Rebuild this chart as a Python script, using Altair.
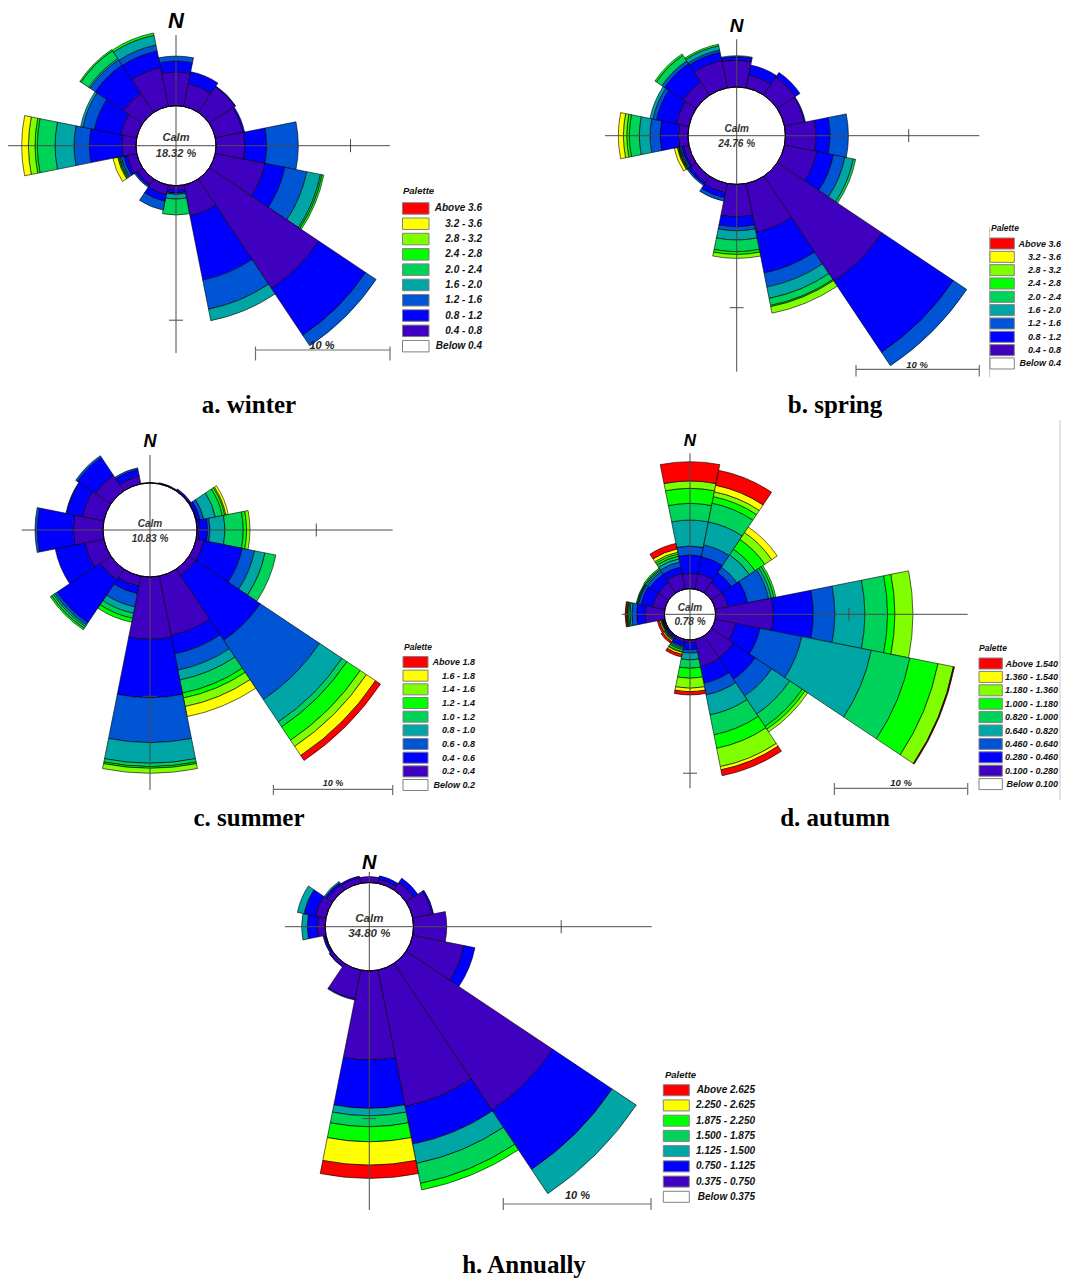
import math

import altair as alt
import pandas as pd

# ---------------------------------------------------------------------------
# Wind-rose data: frequency (%) per direction and wind-speed class (m/s)
# ---------------------------------------------------------------------------
DIRECTIONS = ["N", "NNE", "NE", "ENE", "E", "ESE", "SE", "SSE",
              "S", "SSW", "SW", "WSW", "W", "WNW", "NW", "NNW"]

WINTER_CLASSES = ["0.4 - 0.8", "0.8 - 1.2", "1.2 - 1.6", "1.6 - 2.0", "2.0 - 2.4",
                  "2.4 - 2.8", "2.8 - 3.2", "3.2 - 3.6", "Above 3.6"]
SPRING_CLASSES = ["0.4 - 0.8", "0.8 - 1.2", "1.2 - 1.6", "1.6 - 2.0", "2.0 - 2.4",
                  "2.4 - 2.8", "2.8 - 3.2", "3.2 - 3.6", "Above 3.6"]
SUMMER_CLASSES = ["0.2 - 0.4", "0.4 - 0.6", "0.6 - 0.8", "0.8 - 1.0", "1.0 - 1.2",
                  "1.2 - 1.4", "1.4 - 1.6", "1.6 - 1.8", "Above 1.8"]
AUTUMN_CLASSES = ["0.100 - 0.280", "0.280 - 0.460", "0.460 - 0.640", "0.640 - 0.820",
                  "0.820 - 1.000", "1.000 - 1.180", "1.180 - 1.360", "1.360 - 1.540",
                  "Above 1.540"]
ANNUAL_CLASSES = ["0.375 - 0.750", "0.750 - 1.125", "1.125 - 1.500", "1.500 - 1.875",
                  "1.875 - 2.250", "2.250 - 2.625", "Above 2.625"]

BELOW = {"winter": "Below 0.4", "spring": "Below 0.4", "summer": "Below 0.2",
         "autumn": "Below 0.100", "annual": "Below 0.375"}

CALM = {"winter": 18.32, "spring": 24.76, "summer": 10.83, "autumn": 0.78, "annual": 34.80}

# rows follow DIRECTIONS, columns follow the speed classes (lowest first)
WINTER = [
    [2.53, 0.79, 0.37, 0, 0, 0, 0, 0, 0],
    [1.73, 0.90, 0, 0, 0, 0, 0, 0, 0],
    [2.30, 0.06, 0, 0, 0, 0, 0, 0, 0],
    [2.10, 0.12, 0, 0, 0, 0, 0, 0, 0],
    [2.16, 1.61, 2.35, 0, 0, 0, 0, 0, 0],
    [3.77, 1.51, 1.66, 1.04, 0.12, 0.13, 0, 0, 0],
    [9.79, 4.19, 0.94, 0, 0, 0, 0, 0, 0],
    [2.35, 4.86, 2.21, 0.87, 0, 0, 0, 0, 0],
    [0.35, 0.20, 0.10, 0.35, 1.18, 0, 0, 0, 0],
    [0.74, 0.50, 0.67, 0, 0, 0, 0, 0, 0],
    [0.50, 0.15, 0.10, 0, 0, 0, 0, 0, 0],
    [0.74, 0.25, 0.20, 0.10, 0.08, 0.08, 0, 0.36, 0],
    [1.07, 2.40, 1.14, 1.41, 1.32, 0.17, 0.49, 0.50, 0],
    [1.24, 1.98, 0.87, 0.17, 0, 0, 0, 0, 0],
    [1.73, 2.51, 0.47, 0.12, 0.70, 0.10, 0, 0, 0],
    [2.95, 1.26, 0.45, 0.74, 0, 0.17, 0, 0, 0],
]

SPRING = [
    [2.20, 0.25, 0.09, 0, 0, 0, 0, 0, 0],
    [1.08, 0.81, 0, 0, 0, 0, 0, 0, 0],
    [1.78, 0.44, 0, 0, 0, 0, 0, 0, 0],
    [1.65, 0.08, 0, 0, 0, 0, 0, 0, 0],
    [2.49, 1.13, 1.49, 0, 0, 0, 0, 0, 0],
    [2.68, 1.37, 0.95, 0.70, 0.19, 0, 0, 0, 0],
    [10.24, 6.95, 1.30, 0, 0, 0, 0, 0, 0],
    [4.03, 3.38, 1.16, 0.94, 0.58, 0.10, 0.54, 0, 0],
    [2.62, 0.81, 0.33, 0.75, 0.95, 0.22, 0.32, 0, 0],
    [0.78, 0.41, 0.27, 0, 0, 0, 0, 0, 0],
    [0.60, 0.20, 0.12, 0, 0, 0, 0, 0, 0],
    [0.45, 0.15, 0.12, 0.08, 0.06, 0.06, 0.05, 0.25, 0],
    [0.78, 1.49, 0.81, 0.87, 0.81, 0.21, 0.27, 0.41, 0],
    [1.05, 1.63, 0.30, 0.24, 0, 0, 0, 0, 0],
    [1.30, 1.78, 0.27, 0, 0.54, 0.14, 0, 0, 0],
    [2.27, 0.68, 0.19, 0.35, 0, 0.13, 0, 0, 0],
]

SUMMER = [
    [0.05, 0, 0, 0, 0, 0, 0, 0, 0],
    [0.05, 0.05, 0, 0, 0, 0, 0, 0, 0],
    [0.10, 0.10, 0, 0, 0, 0, 0, 0, 0],
    [0.10, 0.25, 0.30, 1.00, 0.60, 0.20, 0.10, 0.20, 0],
    [0.20, 0.70, 0.19, 1.26, 1.53, 0.28, 0.28, 0, 0],
    [0.67, 3.27, 1.06, 0.89, 0.93, 0, 0, 0, 0],
    [0.67, 6.51, 5.98, 2.26, 0.50, 1.34, 0.62, 0.92, 0.50],
    [5.06, 1.59, 1.39, 0.84, 1.12, 0.42, 0.73, 0.86, 0],
    [5.22, 4.89, 3.77, 1.73, 0.28, 0.14, 0.42, 0, 0],
    [0.87, 0.64, 1.12, 0.55, 0.42, 0.34, 0, 0, 0],
    [1.09, 4.33, 0.22, 0.16, 0.18, 0.14, 0, 0, 0],
    [1.65, 2.51, 0, 0, 0, 0, 0, 0, 0],
    [2.49, 3.01, 0.20, 0, 0, 0, 0, 0, 0],
    [1.84, 1.35, 0.05, 0, 0, 0, 0, 0, 0],
    [1.59, 1.79, 0.17, 0, 0, 0, 0, 0, 0],
    [0.67, 0.56, 0.14, 0, 0, 0, 0, 0, 0],
]

AUTUMN = [
    [1.15, 1.38, 0.67, 1.95, 1.25, 1.13, 0.55, 0, 1.45],
    [1.20, 1.28, 0.90, 1.77, 1.43, 0.50, 0.37, 0.50, 1.15],
    [0.95, 0.88, 0.50, 1.12, 0.50, 0.88, 0.62, 0.50, 0],
    [1.00, 1.50, 1.60, 0.20, 0.20, 0.15, 0, 0, 0],
    [4.33, 3.00, 1.62, 2.25, 1.70, 0.55, 1.35, 0, 0],
    [1.58, 1.85, 3.20, 5.32, 2.95, 2.15, 1.18, 0.03, 0.05],
    [2.00, 1.95, 1.50, 1.63, 1.12, 0.25, 0.25, 0, 0],
    [2.08, 1.27, 0.90, 1.53, 1.52, 1.03, 1.40, 0.25, 0.45],
    [0.25, 0.50, 0.25, 0.50, 0.63, 0.75, 0.75, 0.25, 0.25],
    [0.20, 0.30, 0.10, 0.10, 0.10, 0.15, 0.05, 0.15, 0.20],
    [0.10, 0.10, 0.05, 0.05, 0.05, 0.05, 0.05, 0.10, 0.15],
    [0.08, 0.07, 0.03, 0.03, 0.03, 0.04, 0.05, 0.10, 0.15],
    [1.45, 0.63, 0.37, 0.15, 0.10, 0.08, 0.05, 0.05, 0.07],
    [0.95, 0.88, 0.20, 0.07, 0.05, 0.05, 0, 0, 0],
    [0.95, 0.75, 0.25, 0.12, 0.08, 0.10, 0, 0, 0],
    [1.20, 0.50, 0.38, 0.25, 0.20, 0.17, 0.13, 0.25, 0.42],
]

ANNUAL = [
    [0.40, 0, 0, 0, 0, 0, 0],
    [0.30, 0.22, 0, 0, 0, 0, 0],
    [0.62, 0.34, 0, 0, 0, 0, 0],
    [1.35, 0.10, 0, 0, 0, 0, 0],
    [2.25, 0, 0, 0, 0, 0, 0],
    [3.56, 0.74, 0, 0, 0, 0, 0],
    [11.95, 4.83, 1.97, 0, 0, 0, 0],
    [9.42, 2.60, 1.33, 1.38, 0.45, 0, 0],
    [6.04, 3.27, 0.50, 0.74, 1.02, 1.58, 0.90],
    [2.00, 0.07, 0, 0, 0, 0, 0],
    [0.25, 0.03, 0, 0, 0, 0, 0],
    [0.10, 0.10, 0, 0, 0, 0, 0],
    [0.53, 0.68, 0.38, 0, 0, 0, 0],
    [0.73, 0.79, 0.45, 0, 0, 0, 0],
    [0.45, 0.15, 0.09, 0, 0, 0, 0],
    [0.40, 0.10, 0, 0, 0, 0, 0],
]

# ---------------------------------------------------------------------------
# Styling
# ---------------------------------------------------------------------------
INDIGO, BLUE, MBLUE, TEAL = "#4000C0", "#0000FF", "#0055D4", "#00A5A5"
MGREEN, GREEN, LIME, YELLOW, RED = "#00D35A", "#00FF00", "#80FF00", "#FFFF00", "#FF0000"
PALETTE_9 = [INDIGO, BLUE, MBLUE, TEAL, MGREEN, GREEN, LIME, YELLOW, RED]
PALETTE_7 = [INDIGO, BLUE, TEAL, MGREEN, GREEN, YELLOW, RED]

SANS = "Liberation Sans"
SERIF = "Liberation Serif"

# panel layout: rose centre, calm radius, pixels per 10 %, guides and legend
ROSES = [
    dict(key="winter", freq=WINTER, classes=WINTER_CLASSES, palette=PALETTE_9,
         cx=176, cy=145.7, r0=40, px10=134.5, hx=(8, 390), vy=(35, 353),
         north=(21, 22), calm_y=(138.3, 154.2), calm_fs=11,
         bar=(390, 350, 346.5, 360.5), bar_label=(322, 346, 11),
         legend=dict(x=402.5, w=26.5, top=202.7, h=11.5, step=15.3, right=482,
                     tx=403, ty=191, fs=10),
         caption=("a. winter", 249, 405)),
    dict(key="spring", freq=SPRING, classes=SPRING_CLASSES, palette=PALETTE_9,
         cx=736.7, cy=135.7, r0=48.7, px10=123.3, hx=(605, 979.3), vy=(39.3, 371.7),
         north=(26, 19), calm_y=(129, 144), calm_fs=10,
         bar=(979.3, 369.3, 365, 376.5), bar_label=(917, 364.5, 9.5),
         legend=dict(x=990, w=24.3, top=238, h=11, step=13.33, right=1061,
                     tx=991, ty=228, fs=9),
         caption=("b. spring", 835, 405)),
    dict(key="summer", freq=SUMMER, classes=SUMMER_CLASSES, palette=PALETTE_9,
         cx=150, cy=530, r0=47, px10=119.3, hx=(21.7, 392.7), vy=(455, 790),
         north=(441.5, 18), calm_y=(524.3, 538.7), calm_fs=10,
         bar=(392.7, 789.3, 785, 795), bar_label=(333, 782.5, 9),
         legend=dict(x=403, w=25, top=656.5, h=11, step=13.67, right=475,
                     tx=404, ty=647, fs=9),
         caption=("c. summer", 249, 818)),
    dict(key="autumn", freq=AUTUMN, classes=AUTUMN_CLASSES, palette=PALETTE_9,
         cx=690, cy=614.3, r0=25.6, px10=133.3, hx=(621.7, 967.7), vy=(453.3, 788.3),
         north=(441, 17), calm_y=(608.3, 621.7), calm_fs=10,
         bar=(967.7, 788.3, 783, 795), bar_label=(901, 782.5, 9.5),
         legend=dict(x=979, w=23.3, top=658, h=11, step=13.4, right=1058,
                     tx=979, ty=648, fs=9),
         caption=("d. autumn", 835, 818)),
    dict(key="annual", freq=ANNUAL, classes=ANNUAL_CLASSES, palette=PALETTE_7,
         cx=369.3, cy=926.7, r0=44.2, px10=147.7, hx=(285, 651.7), vy=(872, 1210),
         north=(863, 20), calm_y=(919, 934.3), calm_fs=11.5,
         bar=(651, 1204, 1198, 1210), bar_label=(577.5, 1195.5, 11),
         legend=dict(x=663.3, w=26, top=1084.7, h=11, step=15.23, right=755,
                     tx=665, ty=1075, fs=10),
         caption=("h. Annually", 524, 1265)),
]

ONE = pd.DataFrame({"k": [0]})
THETA_SCALE = alt.Scale(domain=[0, 360], range=[0, 2 * math.pi])


def radius_scale(r):
    return alt.Scale(type="linear", domain=[0, 10], range=[r["r0"], r["r0"] + r["px10"]],
                     zero=False, nice=False)


def rose_frame(r):
    rows = []
    for d, values in enumerate(r["freq"]):
        for b, v in enumerate(values):
            rows.append({"dir": DIRECTIONS[d], "angle": d * 22.5,
                         "cls": r["classes"][b], "order": b, "pct": v})
    return pd.DataFrame(rows)


def sectors(r):
    return (
        alt.Chart(rose_frame(r))
        .transform_stack(stack="pct", groupby=["dir"], as_=["r_in", "r_out"],
                         sort=[alt.SortField(field="order", order="ascending")])
        .transform_filter("datum.pct > 0")
        .transform_calculate(t0="datum.angle - 11.25", t1="datum.angle + 11.25")
        .mark_arc(stroke="#000000", strokeWidth=0.6)
        .encode(
            x=alt.value(r["cx"]), y=alt.value(r["cy"]),
            theta=alt.Theta("t0:Q", scale=THETA_SCALE, stack=False),
            theta2="t1:Q",
            radius=alt.Radius("r_out:Q", scale=radius_scale(r), stack=False),
            radius2="r_in:Q",
            color=alt.Color("cls:N", scale=alt.Scale(domain=r["classes"], range=r["palette"]),
                            legend=None),
        )
    )


def calm_disc(r):
    return (
        alt.Chart(ONE)
        .mark_arc(fill="#FFFFFF", stroke="#000000", strokeWidth=0.8)
        .encode(
            x=alt.value(r["cx"]), y=alt.value(r["cy"]),
            theta=alt.Theta(datum=0, type="quantitative", scale=THETA_SCALE),
            theta2=alt.Theta2(datum=360),
            radius=alt.Radius(datum=0, type="quantitative", scale=radius_scale(r)),
        )
    )


# guide lines: crosshair with a 10 % tick on each arm, and the 10 % scale bar
axis_segs, bar_segs = [], []
for r in ROSES:
    cx, cy, reach = r["cx"], r["cy"], r["r0"] + r["px10"]
    axis_segs += [
        dict(x=r["hx"][0], y=cy, x2=r["hx"][1], y2=cy),
        dict(x=cx, y=r["vy"][0], x2=cx, y2=r["vy"][1]),
        dict(x=cx + reach, y=cy - 6.5, x2=cx + reach, y2=cy + 6.5),
        dict(x=cx - 7, y=cy + reach, x2=cx + 7, y2=cy + reach),
    ]
    bx1, by, bt0, bt1 = r["bar"]
    bx0 = bx1 - r["px10"]
    bar_segs += [
        dict(x=bx0, y=by, x2=bx1, y2=by),
        dict(x=bx0, y=bt0, x2=bx0, y2=bt1),
        dict(x=bx1, y=bt0, x2=bx1, y2=bt1),
    ]
frame_segs = [dict(x=1060, y=420, x2=1060, y2=800),
              dict(x=989.5, y=227, x2=989.5, y2=377)]


def rules(segs, color, width):
    return (
        alt.Chart(pd.DataFrame(segs))
        .mark_rule(color=color, strokeWidth=width)
        .encode(
            x=alt.X("x:Q", scale=None, axis=None), y=alt.Y("y:Q", scale=None, axis=None),
            x2="x2:Q", y2="y2:Q",
        )
    )


def texts(rows, align="center", color="#000000", font=SANS, italic=True, weight="bold"):
    return (
        alt.Chart(pd.DataFrame(rows))
        .mark_text(align=align, baseline="middle", font=font, fontWeight=weight,
                   fontStyle="italic" if italic else "normal", color=color)
        .encode(
            x=alt.X("x:Q", scale=None, axis=None), y=alt.Y("y:Q", scale=None, axis=None),
            text="t:N", size=alt.Size("fs:Q", scale=None),
        )
    )


north_rows, calm_rows, bar_rows, caption_rows = [], [], [], []
legend_boxes, legend_labels, legend_titles = [], [], []
for r in ROSES:
    north_rows.append(dict(x=r["cx"], y=r["north"][0], t="N", fs=r["north"][1]))
    calm_rows.append(dict(x=r["cx"], y=r["calm_y"][0], t="Calm", fs=r["calm_fs"]))
    calm_rows.append(dict(x=r["cx"], y=r["calm_y"][1], t=f"{CALM[r['key']]:.2f} %",
                          fs=r["calm_fs"]))
    bar_rows.append(dict(x=r["bar_label"][0], y=r["bar_label"][1], t="10 %",
                         fs=r["bar_label"][2]))
    caption_rows.append(dict(x=r["caption"][1], y=r["caption"][2], t=r["caption"][0], fs=25))

    g = r["legend"]
    labels = list(reversed(r["classes"])) + [BELOW[r["key"]]]
    fills = list(reversed(r["palette"])) + ["#FFFFFF"]
    legend_titles.append(dict(x=g["tx"], y=g["ty"], t="Palette", fs=g["fs"] - 0.5))
    for i, (lab, fill) in enumerate(zip(labels, fills)):
        top = g["top"] + i * g["step"]
        legend_boxes.append(dict(x=g["x"], x2=g["x"] + g["w"], y=top, y2=top + g["h"],
                                 fill=fill))
        legend_labels.append(dict(x=g["right"], y=top + g["h"] / 2, t=lab, fs=g["fs"]))

legend_rects = (
    alt.Chart(pd.DataFrame(legend_boxes))
    .mark_rect(stroke="#808080", strokeWidth=1)
    .encode(
        x=alt.X("x:Q", scale=None, axis=None), x2="x2:Q",
        y=alt.Y("y:Q", scale=None, axis=None), y2="y2:Q",
        color=alt.Color("fill:N", scale=None),
    )
)

layers = [sectors(r) for r in ROSES]
layers += [rules(axis_segs, "#4a4a4a", 1), rules(bar_segs, "#6e6e6e", 1.2),
           rules(frame_segs, "#c8c8c8", 1)]
layers += [calm_disc(r) for r in ROSES]
layers += [
    texts(north_rows),
    texts(calm_rows, color="#333333"),
    texts(bar_rows, color="#222222"),
    texts(caption_rows, font=SERIF, italic=False),
    legend_rects,
    texts(legend_labels, align="right", color="#111111"),
    texts(legend_titles, align="left", color="#111111"),
]

chart = (
    alt.layer(*layers)
    .resolve_scale(color="independent", radius="independent")
    .properties(width=1065, height=1278, padding=0, background="white",
                autosize=alt.AutoSizeParams(type="none"))
    .configure_view(strokeWidth=0)
)

chart.save("out.html", embed_options={"renderer": "svg", "actions": False})
